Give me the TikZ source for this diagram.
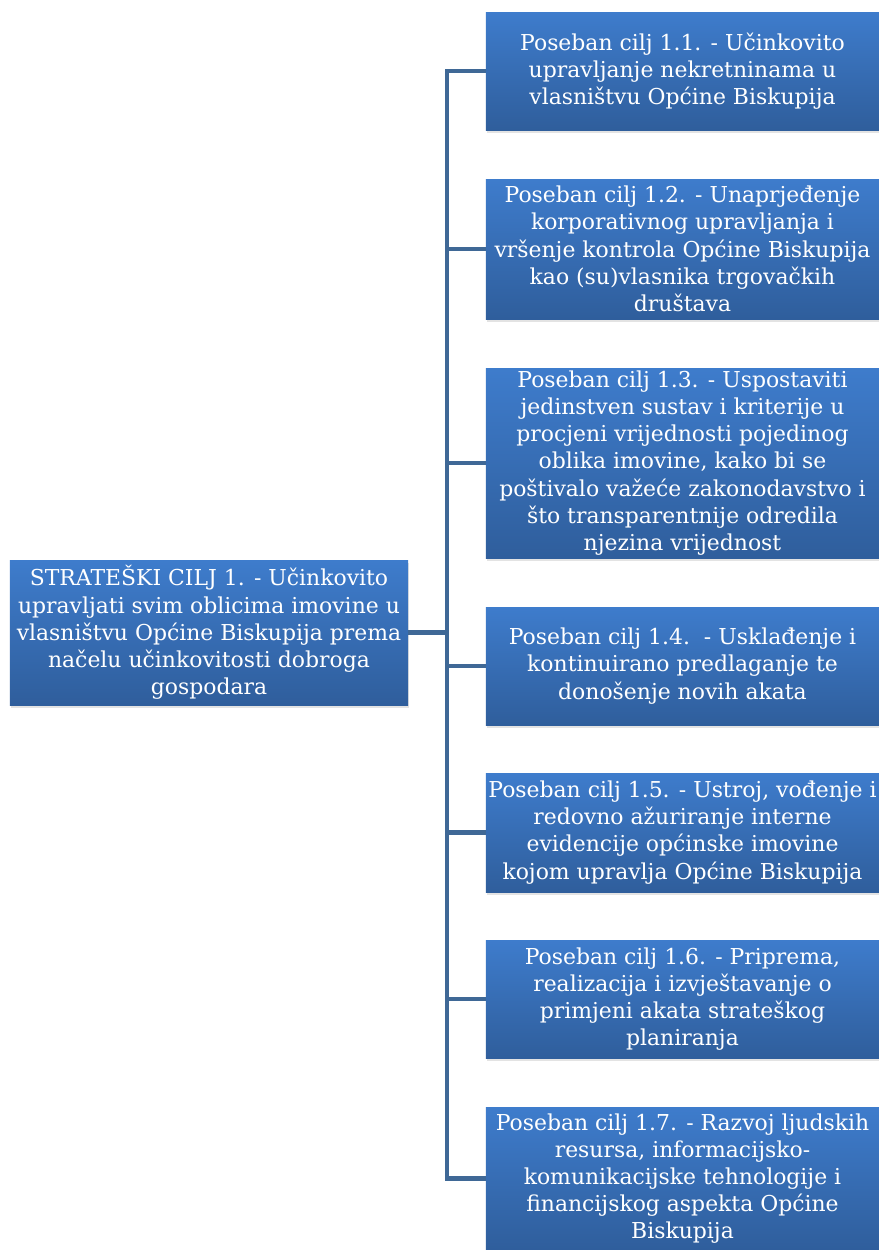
\documentclass[tikz,border=0pt]{standalone}
\usepackage{fontspec}
\setmainfont{DejaVu Serif}
\usetikzlibrary{positioning,shadows}
\definecolor{boxtop}{HTML}{3E7CCC}
\definecolor{boxbot}{HTML}{2F5E9C}
\definecolor{linkblue}{HTML}{3F6896}

\begin{document}
\begin{tikzpicture}[
    x=0.03cm, y=-0.03cm,
    goalbox/.style={rectangle, top color=boxtop, bottom color=boxbot,
                    draw=none, text=white, align=center, inner sep=0pt,
                    font=\fontsize{18.7}{23.2}\selectfont,
                    drop shadow={opacity=0.22, shadow xshift=1pt, shadow yshift=-2.5pt}},
    link/.style={draw=linkblue, line width=4.2pt, line join=miter}
  ]

  % ---- Canvas ----
  \useasboundingbox (0,0) rectangle (879,1250);

  % ---- Strategic goal (left) ----
  \node[goalbox, minimum width=11.94cm, minimum height=4.35cm]
    (goal) at (209,632.5)
    {STRATEŠKI CILJ 1. - Učinkovito\\upravljati svim oblicima imovine u\\vlasništvu Općine Biskupija prema\\načelu učinkovitosti dobroga\\gospodara};

  % ---- Specific goals (right column) ----
  \node[goalbox, minimum width=11.79cm, minimum height=3.54cm]
    (c1) at (682.5,71)
    {Poseban cilj 1.1. - Učinkovito\\upravljanje nekretninama u\\vlasništvu Općine Biskupija};
  \node[goalbox, minimum width=11.79cm, minimum height=4.2cm]
    (c2) at (682.5,249)
    {Poseban cilj 1.2. - Unaprjeđenje\\korporativnog upravljanja i\\vršenje kontrola Općine Biskupija\\kao (su)vlasnika trgovačkih\\društava};
  \node[goalbox, minimum width=11.79cm, minimum height=5.7cm]
    (c3) at (682.5,463)
    {Poseban cilj 1.3. - Uspostaviti\\jedinstven sustav i kriterije u\\procjeni vrijednosti pojedinog\\oblika imovine, kako bi se\\poštivalo važeće zakonodavstvo i\\što transparentnije odredila\\njezina vrijednost};
  \node[goalbox, minimum width=11.79cm, minimum height=3.54cm]
    (c4) at (682.5,666)
    {Poseban cilj 1.4.\ \ - Usklađenje i\\kontinuirano predlaganje te\\donošenje novih akata};
  \node[goalbox, minimum width=11.79cm, minimum height=3.57cm]
    (c5) at (682.5,832.5)
    {Poseban cilj 1.5. - Ustroj, vođenje i\\redovno ažuriranje interne\\evidencije općinske imovine\\kojom upravlja Općine Biskupija};
  \node[goalbox, minimum width=11.79cm, minimum height=3.54cm]
    (c6) at (682.5,999)
    {Poseban cilj 1.6. - Priprema,\\realizacija i izvještavanje o\\primjeni akata strateškog\\planiranja};
  \node[goalbox, minimum width=11.79cm, minimum height=4.29cm]
    (c7) at (682.5,1178.5)
    {Poseban cilj 1.7. - Razvoj ljudskih\\resursa, informacijsko-\\komunikacijske tehnologije i\\financijskog aspekta Općine\\Biskupija};

  % ---- Connectors ----
  \coordinate (trunk) at (447,632.5);
  \draw[link] (goal.east) -- (trunk);
  \foreach \n in {c1,c2,c3,c4,c5,c6,c7}{
    \draw[link] (trunk) |- (\n.west);
  }

\end{tikzpicture}
\end{document}
